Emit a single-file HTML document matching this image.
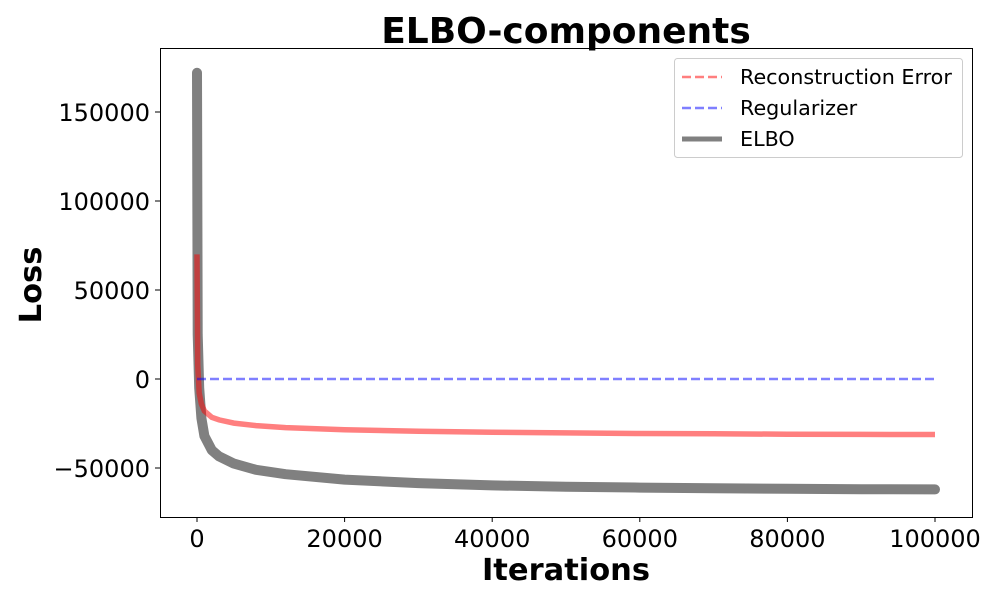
<!DOCTYPE html>
<html><head><meta charset="utf-8"><style>
body{margin:0;background:#fff;}
svg{display:block;font-family:"DejaVu Sans","Liberation Sans",sans-serif;}
</style></head><body>
<svg id="chart" width="1000" height="600">
<rect x="0" y="0" width="1000" height="600" fill="#fff"/>
<text x="566" y="43" font-size="36" font-weight="bold" text-anchor="middle">ELBO-components</text>
<text x="566" y="580" font-size="30.5" font-weight="bold" text-anchor="middle">Iterations</text>
<text transform="translate(41,285) rotate(-90)" font-size="30.5" font-weight="bold" text-anchor="middle">Loss</text>
<g id="plot"></g>
<rect x="160.5" y="48.5" width="812" height="469" fill="none" stroke="#000" stroke-width="1"/>
<g>
<rect x="674.5" y="58.5" width="288" height="99" rx="3" fill="#fff" stroke="#ccc" fill-opacity="0.8"/>
<g><line x1="682" y1="77" x2="722" y2="77" stroke="#ff7f7f" stroke-width="2.5" stroke-dasharray="9,4"/><text x="740" y="84" font-size="20.7">Reconstruction Error</text></g>
<g><line x1="682" y1="108" x2="722" y2="108" stroke="#7f7fff" stroke-width="2.5" stroke-dasharray="9,4"/><text x="740" y="115" font-size="20.7">Regularizer</text></g>
<g><line x1="682" y1="139" x2="722" y2="139" stroke="#808080" stroke-width="5"/><text x="740" y="146" font-size="20.7">ELBO</text></g>
</g>
</svg>
<script>
const iterations=[0,100,300,600,1000,2000,3000,5000,8000,12000,20000,30000,40000,50000,60000,70000,80000,90000,100000];
const elbo=[172000,25000,-5000,-22000,-32000,-40000,-43500,-47500,-51000,-53500,-56500,-58500,-59800,-60500,-61000,-61400,-61700,-61900,-62000];
const reconstruction=[70000,8000,-8000,-14000,-18000,-21500,-23000,-24800,-26200,-27300,-28500,-29300,-29900,-30300,-30600,-30800,-31000,-31100,-31200];
const regularizer=[0,0,0,0,0,0,0,0,0,0,0,0,0,0,0,0,0,0,0];
const xTicks=[0,20000,40000,60000,80000,100000];
const yTicks=[-50000,0,50000,100000,150000];
const ns="http://www.w3.org/2000/svg";
const X=v=>197+v*(935-197)/100000;
const Y=v=>379-v*(379-290)/50000;
const g=document.getElementById('plot');
function mk(t,a){const e=document.createElementNS(ns,t);for(const k in a)e.setAttribute(k,a[k]);g.appendChild(e);return e;}
xTicks.forEach(t=>{
 const l=mk('line',{x1:X(t),x2:X(t),y1:517,y2:522,stroke:'#000'});
 
 
 const s=mk('text',{x:X(t),y:547,'font-size':24,'text-anchor':'middle'});
 s.textContent=t;
 
 
});
yTicks.forEach(t=>{
 const l=mk('line',{x1:155,x2:160,y1:Y(t),y2:Y(t),stroke:'#000'});
 
 
 const s=mk('text',{x:150,y:Y(t)+9,'font-size':24,'text-anchor':'end'});
 s.textContent=t<0?'\u2212'+(-t):t;
 
 
});
function pts(arr){return iterations.map((x,i)=>X(x).toFixed(1)+','+Y(arr[i]).toFixed(1)).join(' ');}
const pe=mk('polyline',{points:pts(elbo),fill:'none',stroke:'#808080','stroke-width':10,'stroke-linejoin':'round','stroke-linecap':'round'});


const pr=mk('polyline',{points:pts(reconstruction),fill:'none',stroke:'#ff0000','stroke-opacity':0.5,'stroke-width':5.5});


const pg=mk('polyline',{points:pts(regularizer),fill:'none',stroke:'#0000ff','stroke-opacity':0.5,'stroke-width':2.5,'stroke-dasharray':'9,4'});


</script>
</body></html>
